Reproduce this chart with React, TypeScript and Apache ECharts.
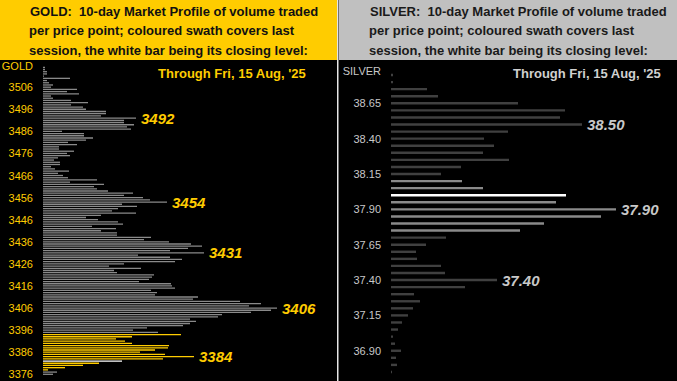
import React, { useEffect, useRef } from "react";
import * as echarts from "echarts";

// ---------- GOLD (price points from 3376 upward, 1 per point) ----------
const goldStart = 3376;
const goldVolumes = [
  10, 14, 5, 22, 40, 56, 79, 120, 151, 122, // 3376-3385
  97, 112, 125, 126, 89, 82, 73, 89, 138, 115, // 3386-3395
  90, 104, 140, 147, 153, 147, 175, 179, 208, 228, // 3396-3405
  234, 206, 218, 197, 150, 155, 112, 114, 108, 132, // 3406-3415
  129, 128, 96, 106, 109, 111, 74, 71, 98, 66, // 3416-3425
  81, 132, 139, 127, 95, 161, 127, 145, 159, 148, // 3426-3435
  126, 101, 108, 74, 74, 58, 73, 49, 80, 75, // 3436-3445
  55, 43, 58, 93, 69, 75, 94, 79, 124, 107, // 3446-3455
  100, 81, 90, 65, 54, 51, 61, 27, 54, 25, // 3456-3465
  20, 15, 26, 12, 8, 17, 17, 11, 15, 27, // 3466-3475
  24, 31, 16, 16, 34, 25, 43, 50, 41, 41, // 3476-3485
  19, 88, 84, 91, 81, 81, 93, 58, 63, 63, // 3486-3495
  43, 40, 28, 45, 28, 10, 8, 36, 24, 34, // 3496-3505
  8, 10, 6, 4, 27, 1, 4, 4, 2, 2, // 3506-3515
];
const goldPrices = goldVolumes.map((_, i) => String(goldStart + i));
const goldSessionLow = 3378;
const goldSessionHigh = 3394;
const goldClose = 3382;
const goldPeaks = [3492, 3454, 3431, 3406, 3384];
const goldTickStep = 10;

// ---------- SILVER (price points from 36.75 upward, 0.05 apart) ----------
const silverPrices = [
  "36.75", "36.80", "36.85", "36.90", "36.95", "37.00", "37.05", "37.10", "37.15", "37.20",
  "37.25", "37.30", "37.35", "37.40", "37.45", "37.50", "37.55", "37.60", "37.65", "37.70",
  "37.75", "37.80", "37.85", "37.90", "37.95", "38.00", "38.05", "38.10", "38.15", "38.20",
  "38.25", "38.30", "38.35", "38.40", "38.45", "38.50", "38.55", "38.60", "38.65", "38.70",
  "38.75", "38.80", "38.85",
];
const silverVolumes = [
  1, 6, 5, 10, 4, 2, 7, 11, 17, 22,
  29, 23, 74, 106, 54, 50, 26, 25, 35, 55,
  129, 153, 210, 225, 165, 175, 92, 71, 50, 70,
  118, 92, 103, 93, 117, 191, 169, 174, 127, 47,
  36, 2, 2,
];
const silverSessionLow = 37.75;
const silverSessionHigh = 38.1;
const silverClose = "38.00";
const silverPeaks = ["38.50", "37.90", "37.40"];
const silverTickLabels = ["36.90", "37.15", "37.40", "37.65", "37.90", "38.15", "38.40", "38.65"];

const headerLines = [
  "10-day Market Profile of volume traded",
  "per price point; coloured swath covers last",
  "session, the white bar being its closing level:",
];
const throughText = "Through Fri, 15 Aug, '25";

const FONT = "'Liberation Sans', Arial, Helvetica, sans-serif";
const YELLOW = "#FFCC00";
const GOLD_GRAY = "#8A8A8A";
const SILVER_DARK = "#404040";
const SILVER_LIGHT = "#8A8A8A";
const SILVER_TEXT = "#C8C8C8";

const peakLabel = (color: string) => ({
  show: true,
  position: "right",
  distance: 5,
  color,
  fontFamily: FONT,
  fontSize: 15,
  fontWeight: "bold",
  fontStyle: "italic",
});

export default function App() {
  const ref = useRef<HTMLDivElement>(null);

  useEffect(() => {
    if (!ref.current) return;
    const chart = echarts.init(ref.current, null, { renderer: "svg" });

    const goldData = goldVolumes.map((v, i) => {
      const p = goldStart + i;
      let color = GOLD_GRAY;
      if (p === goldClose) color = "#FFFFFF";
      else if (p >= goldSessionLow && p <= goldSessionHigh) color = YELLOW;
      const item: any = { value: v, itemStyle: { color } };
      if (goldPeaks.includes(p)) item.label = { ...peakLabel(YELLOW), formatter: String(p) };
      return item;
    });

    const silverData = silverVolumes.map((v, i) => {
      const p = silverPrices[i];
      const n = parseFloat(p);
      let color = SILVER_DARK;
      if (p === silverClose) color = "#FFFFFF";
      else if (n >= silverSessionLow - 1e-9 && n <= silverSessionHigh + 1e-9) color = SILVER_LIGHT;
      const item: any = { value: v, itemStyle: { color } };
      if (silverPeaks.includes(p)) item.label = { ...peakLabel(SILVER_TEXT), formatter: p };
      return item;
    });

    const headerText = (prefix: string, x: number, color: string) =>
      headerLines.map((line, i) => ({
        type: "text",
        x: i === 0 ? x : x - 1,
        y: 11 + i * 19.5,
        style: {
          text: i === 0 ? `${prefix}:  ${line}` : line,
          fill: color,
          font: `bold 13px ${FONT}`,
          textVerticalAlign: "middle",
          verticalAlign: "middle",
        },
      }));

    chart.setOption({
      animation: false,
      backgroundColor: "#000000",
      graphic: [
        { type: "rect", shape: { x: 0, y: 0, width: 337, height: 60 }, style: { fill: YELLOW } },
        { type: "rect", shape: { x: 339, y: 0, width: 338, height: 60 }, style: { fill: "#C0C0C0" } },
        { type: "rect", shape: { x: 337, y: 0, width: 1.5, height: 381 }, style: { fill: "#E6E6E6" } },
        ...headerText("GOLD", 30, "#111111"),
        ...headerText("SILVER", 370, "#1A1A1A"),
        {
          type: "text", x: 158, y: 73,
          style: { text: throughText, fill: YELLOW, font: `bold 13px ${FONT}`, verticalAlign: "middle", textVerticalAlign: "middle" },
        },
        {
          type: "text", x: 513, y: 73,
          style: { text: throughText, fill: "#D0D0D0", font: `bold 13px ${FONT}`, verticalAlign: "middle", textVerticalAlign: "middle" },
        },
        {
          type: "text", x: 33, y: 66,
          style: { text: "GOLD", fill: YELLOW, font: `11px ${FONT}`, align: "right", textAlign: "right", verticalAlign: "middle", textVerticalAlign: "middle" },
        },
        {
          type: "text", x: 381, y: 70.5,
          style: { text: "SILVER", fill: SILVER_TEXT, font: `11px ${FONT}`, align: "right", textAlign: "right", verticalAlign: "middle", textVerticalAlign: "middle" },
        },
      ],
      grid: [
        { left: 43, top: 66.2, width: 290, height: 309.2 },
        { left: 391, top: 71.5, width: 280, height: 304 },
      ],
      xAxis: [
        { type: "value", gridIndex: 0, min: 0, max: 290, show: false },
        { type: "value", gridIndex: 1, min: 0, max: 280, show: false },
      ],
      yAxis: [
        {
          type: "category",
          gridIndex: 0,
          data: goldPrices,
          axisLine: { show: false },
          axisTick: { show: false },
          splitLine: { show: false },
          axisLabel: {
            interval: (idx: number) => idx % goldTickStep === 0,
            color: YELLOW,
            fontFamily: FONT,
            fontSize: 11,
            margin: 10,
          },
        },
        {
          type: "category",
          gridIndex: 1,
          data: silverPrices,
          axisLine: { show: false },
          axisTick: { show: false },
          splitLine: { show: false },
          axisLabel: {
            interval: (idx: number) => silverTickLabels.includes(silverPrices[idx]),
            color: SILVER_TEXT,
            fontFamily: FONT,
            fontSize: 11,
            margin: 10,
          },
        },
      ],
      series: [
        {
          type: "bar",
          xAxisIndex: 0,
          yAxisIndex: 0,
          data: goldData,
          barWidth: 1.3,
        },
        {
          type: "bar",
          xAxisIndex: 1,
          yAxisIndex: 1,
          data: silverData,
          barWidth: 2.4,
        },
      ],
    });

    return () => chart.dispose();
  }, []);

  return (
    <div
      ref={ref}
      style={{ position: "absolute", left: 0, top: 0, width: 677, height: 381 }}
    />
  );
}
